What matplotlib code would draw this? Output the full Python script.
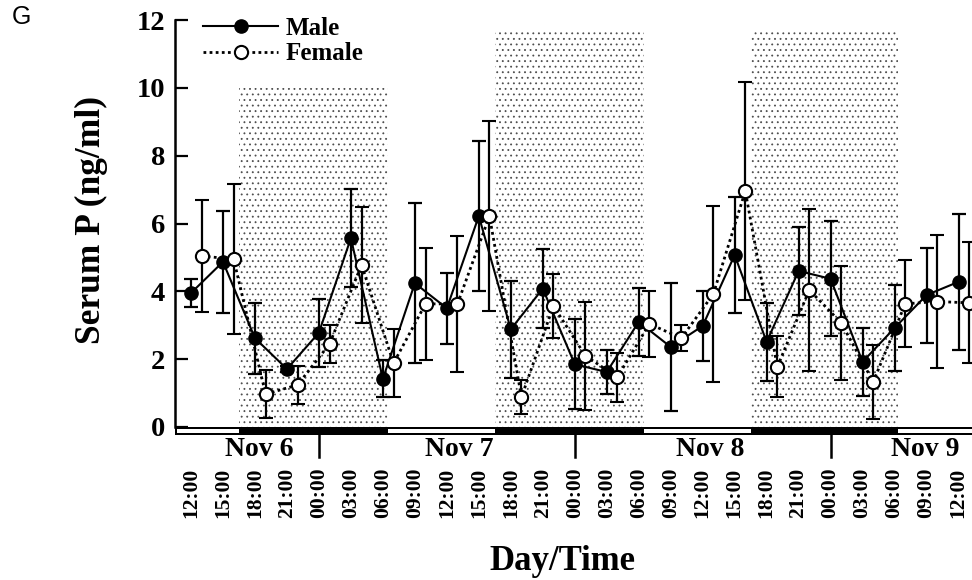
import matplotlib
matplotlib.use("Agg")
import matplotlib.pyplot as plt
from matplotlib.patches import Rectangle
from matplotlib.lines import Line2D
import matplotlib.transforms as mtransforms

# hours from Nov 6 12:00
male_hours = [0, 3, 6, 9, 12, 15, 18, 21, 24, 27, 30, 33, 36, 39, 42, 45, 48, 51, 54, 57, 60, 63, 66, 69, 72]
male_mean = [3.95, 4.87, 2.62, 1.71, 2.78, 5.57, 1.42, 4.24, 3.5, 6.22, 2.88, 4.08, 1.85,
             1.62, 3.1, 2.36, 2.98, 5.07, 2.51, 4.6, 4.37, 1.92, 2.92, 3.89, 4.28]
male_err = [0.4, 1.5, 1.05, 0.1, 1.0, 1.45, 0.55, 2.35, 1.05, 2.2, 1.43, 1.17, 1.33,
            0.65, 1.0, 1.9, 1.02, 1.7, 1.15, 1.3, 1.7, 1.0, 1.27, 1.4, 2.0]

female_hours = [h + 1 for h in male_hours]
female_mean = [5.04, 4.95, 0.97, 1.24, 2.45, 4.78, 1.88, 3.63, 3.63, 6.22, 0.88, 3.57, 2.1,
               1.47, 3.04, 2.62, 3.92, 6.96, 1.77, 4.04, 3.07, 1.33, 3.63, 3.7, 3.66]
female_err = [1.65, 2.2, 0.7, 0.57, 0.55, 1.7, 1.0, 1.65, 2.0, 2.8, 0.5, 0.95, 1.6,
              0.72, 0.97, 0.38, 2.6, 3.22, 0.9, 2.4, 1.68, 1.09, 1.28, 1.95, 1.78]

# dark phases (start, end, height of stippled box)
dark_start = [4.5, 28.5, 52.5]
dark_end = [18.5, 42.5, 66.3]
dark_top = [10.0, 11.65, 11.65]

tick_hours = list(range(0, 73, 3))
tick_labels = ["12:00", "15:00", "18:00", "21:00", "00:00", "03:00", "06:00", "09:00"] * 3 + ["12:00"]
day_names = ["Nov 6", "Nov 7", "Nov 8", "Nov 9"]
day_pos = [6.4, 25.2, 48.7, 68.9]
midnights = [12, 36, 60]

serif = "Liberation Serif"
plt.rcParams["hatch.linewidth"] = 0.6

fig = plt.figure(figsize=(9.72, 5.8), dpi=100)
x0, x1 = -1.5, 75.0
px_per_h = 10.66
ax_w = (x1 - x0) * px_per_h / 972
ax = fig.add_axes([175 / 972, (580 - 427) / 580, ax_w, 407 / 580])
ax.set_xlim(x0, x1)
ax.set_ylim(0, 12)

# stippled dark periods
for s, e, t in zip(dark_start, dark_end, dark_top):
    ax.add_patch(Rectangle((s, 0), e - s, t, facecolor="none", edgecolor="0.3",
                           hatch="...", linewidth=0, zorder=0))

ax.errorbar(male_hours, male_mean, yerr=male_err, fmt="-o", color="black",
            mfc="black", mec="black", ms=9.5, lw=1.5, elinewidth=1.6,
            capsize=5, capthick=1.6, zorder=3)
ax.errorbar(female_hours, female_mean, yerr=female_err, fmt="o", ls=(0, (1, 1.2)),
            color="black", mfc="white", mec="black", mew=1.5, ms=9.5, lw=2.0,
            elinewidth=1.6, capsize=5, capthick=1.6, zorder=4)

# light/dark bar under the axis
ax.add_patch(Rectangle((x0, -0.23), x1 - x0, 0.23, facecolor="black", edgecolor="none",
                       clip_on=False, zorder=5))
light_start = [x0 + 0.15] + dark_end
light_end = dark_start + [x1]
for s, e in zip(light_start, light_end):
    ax.add_patch(Rectangle((s, -0.18), e - s, 0.13, facecolor="white", edgecolor="none",
                           clip_on=False, zorder=6))

trans = mtransforms.blended_transform_factory(ax.transData, ax.transAxes)
for m in midnights:
    ax.plot([m, m], [-0.015, -0.074], color="black", lw=1.8, transform=trans, clip_on=False)
for name, p in zip(day_names, day_pos):
    ax.text(p, -0.056, name, transform=trans, ha="center", va="center",
            fontsize=20, fontweight="bold", family=serif)

ax.set_xticks(tick_hours)
ax.set_xticklabels(tick_labels, rotation=90, fontsize=15.5, fontweight="bold", family=serif,
                   va="top")
ax.tick_params(axis="x", length=0, pad=29)

ax.set_yticks(range(0, 13, 2))
ax.set_yticklabels([str(v) for v in range(0, 13, 2)], fontsize=20.5, fontweight="bold", family=serif)
ax.tick_params(axis="y", direction="in", length=9, width=1.6, pad=7)

for side in ["top", "right", "bottom"]:
    ax.spines[side].set_visible(False)
ax.spines["left"].set_linewidth(1.8)
ax.spines["left"].set_bounds(0, 12)

fig.text(91 / 972, 1 - 220 / 580, "Serum P (ng/ml)", rotation=90, ha="center", va="center",
         fontsize=25.5, fontweight="bold", family=serif)
fig.text(562 / 972, 1 - 562 / 580, "Day/Time", ha="center", va="center",
         fontsize=25, fontweight="bold", family=serif)
fig.text(21 / 972, 1 - 17 / 580, "G", ha="center", va="center", fontsize=18,
         family="Liberation Sans")

handles = [
    Line2D([], [], color="black", lw=1.5, marker="o", ms=9.5, mfc="black"),
    Line2D([], [], color="black", lw=2.0, ls=(0, (1, 1.2)), marker="o", ms=9.5,
           mfc="white", mew=1.5),
]
ax.legend(handles, ["Male", "Female"], loc="upper left",
          bbox_to_anchor=(203 / 972, 1 - 17 / 580),
          bbox_transform=fig.transFigure, frameon=False, borderpad=0,
          borderaxespad=0, handlelength=3.0, handletextpad=0.3, labelspacing=0.1,
          prop={"family": serif, "weight": "bold", "size": 18})

fig.savefig("out.png", dpi=100)
